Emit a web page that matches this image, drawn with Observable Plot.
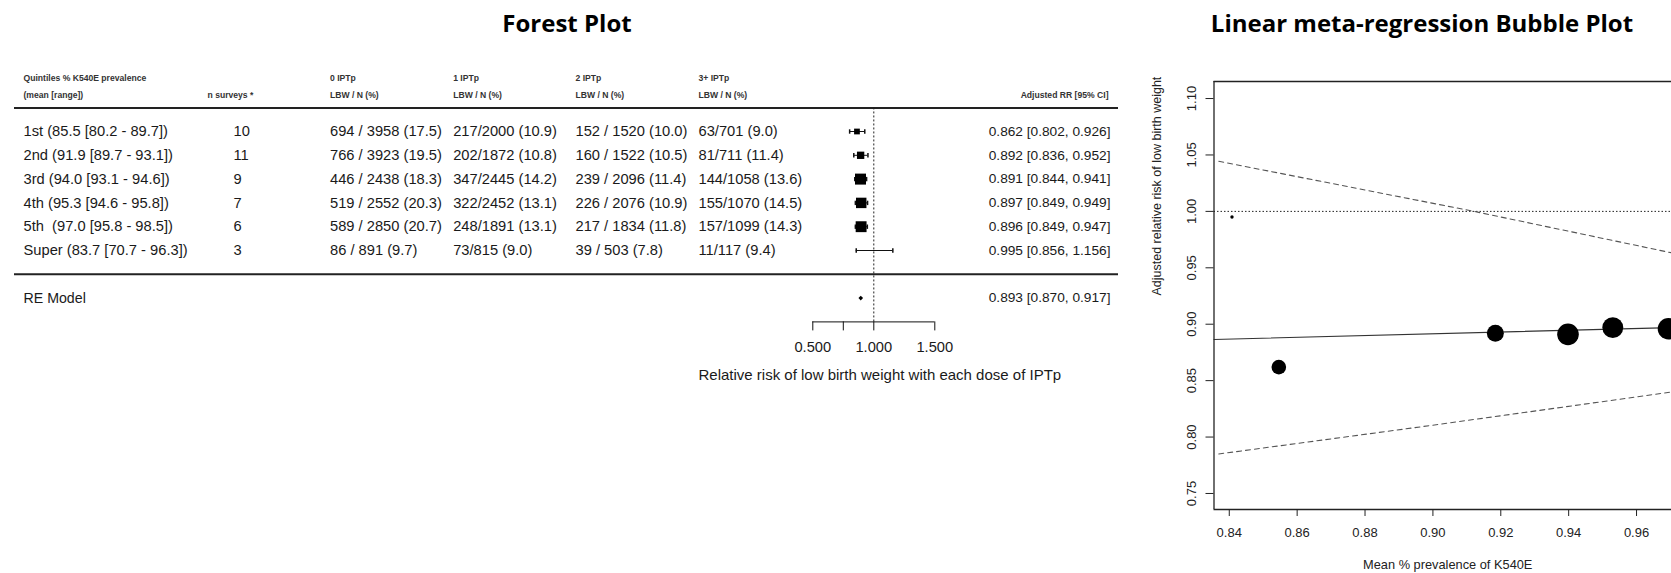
<!DOCTYPE html>
<html><head><meta charset="utf-8">
<script src="https://cdn.jsdelivr.net/npm/d3@7"></script>
<script src="https://cdn.jsdelivr.net/npm/@observablehq/plot@0.6"></script>
<style>
html,body{margin:0;padding:0;background:#fff;overflow:hidden;}
#wrap{position:relative;width:1671px;height:573px;}
.title{position:absolute;font-family:"Open Sans",sans-serif;font-weight:700;color:#000;white-space:nowrap;transform:translate(-50%,-50%);}
#forest{position:absolute;left:0;top:60px;}
#bubble{position:absolute;left:1140px;top:60px;}
svg{overflow:visible;}
</style></head><body>
<div id="wrap">
<div class="title" style="left:567px;top:22px;font-size:24px">Forest Plot</div>
<div class="title" style="left:1422px;top:22px;font-size:24px">Linear meta-regression Bubble Plot</div>
<div id="forest"></div><div id="bubble"></div>
</div>
<script>
// ---------- data ----------
const quintiles = ["1st (85.5 [80.2 - 89.7])", "2nd (91.9 [89.7 - 93.1])", "3rd (94.0 [93.1 - 94.6])",
  "4th (95.3 [94.6 - 95.8])", "5th  (97.0 [95.8 - 98.5])", "Super (83.7 [70.7 - 96.3])"];
const nSurveys = [10, 11, 9, 7, 6, 3];
const ipt0 = ["694 / 3958 (17.5)", "766 / 3923 (19.5)", "446 / 2438 (18.3)", "519 / 2552 (20.3)", "589 / 2850 (20.7)", "86 / 891 (9.7)"];
const ipt1 = ["217/2000 (10.9)", "202/1872 (10.8)", "347/2445 (14.2)", "322/2452 (13.1)", "248/1891 (13.1)", "73/815 (9.0)"];
const ipt2 = ["152 / 1520 (10.0)", "160 / 1522 (10.5)", "239 / 2096 (11.4)", "226 / 2076 (10.9)", "217 / 1834 (11.8)", "39 / 503 (7.8)"];
const ipt3 = ["63/701 (9.0)", "81/711 (11.4)", "144/1058 (13.6)", "155/1070 (14.5)", "157/1099 (14.3)", "11/117 (9.4)"];
const rr = [0.862, 0.892, 0.891, 0.897, 0.896, 0.995];
const rrLow = [0.802, 0.836, 0.844, 0.849, 0.849, 0.856];
const rrHigh = [0.926, 0.952, 0.941, 0.949, 0.947, 1.156];
const reLabel = "RE Model";
const reRR = 0.893, reLow = 0.870, reHigh = 0.917;
const headerTop = ["Quintiles % K540E prevalence", "0 IPTp", "1 IPTp", "2 IPTp", "3+ IPTp"];
const headerBottom = ["(mean [range])", "n surveys *", "LBW / N (%)", "LBW / N (%)", "LBW / N (%)", "LBW / N (%)"];
const headerRight = "Adjusted RR [95% CI]";
const forestTicks = [0.5, 0.75, 1.0, 1.5];
const forestTickLabels = ["0.500", "", "1.000", "1.500"];
const forestXLabel = "Relative risk of low birth weight with each dose of IPTp";

const bubbleX = [0.8546, 0.9184, 0.9398, 0.9530, 0.9694, 0.8408];
const fitX = [0.8355, 0.9703];
const fitY = [0.8865, 0.8970];
const upperX = [0.8369, 0.9121, 0.9703];
const upperY = [1.0444, 1.000, 0.9633];
const lowerX = [0.8369, 0.9000, 0.9703];
const lowerY = [0.7850, 0.8105, 0.8399];
const bubbleXTicks = [0.84, 0.86, 0.88, 0.90, 0.92, 0.94, 0.96];
const bubbleYTicks = [0.75, 0.80, 0.85, 0.90, 0.95, 1.00, 1.05, 1.10];
const bubbleXLabel = "Mean % prevalence of K540E";
const bubbleYLabel = "Adjusted relative risk of low birth weight";

// ---------- derived ----------
const rows = quintiles.map((q, i) => ({
  i, q, n: String(nSurveys[i]), c0: ipt0[i], c1: ipt1[i], c2: ipt2[i], c3: ipt3[i],
  rr: rr[i], lo: rrLow[i], hi: rrHigh[i],
  prec: 3.92 / (Math.log(rrHigh[i]) - Math.log(rrLow[i])),
  ci: `${rr[i].toFixed(3)} [${rrLow[i].toFixed(3)}, ${rrHigh[i].toFixed(3)}]`
}));
rows.forEach(d => d.w = d.prec * d.prec);

// row layout (in row units)
const H1 = -2.23, H2 = -1.51, RULE_TOP = -0.99, RULE_MID = 6.0, RE_ROW = 7.0, AXIS_ROW = 8.0;
const FW = 1140, FH = 330, ROW0 = 71, ROWSTEP = 23.8;
const font = "Liberation Sans, Arial, sans-serif";
const TL = {fontFamily: font, fontSize: 14.7, fill: "#1a1a1a"};
const TR = {fontFamily: font, fontSize: 13.7, fill: "#1a1a1a"};
const HB = {fontFamily: font, fontSize: 8.6, fontWeight: "bold", fill: "#333"};
const colDx = [9, 219, 315.5, 438.7, 561, 684];
const headDx = [9, 193, 315.5, 438.7, 561, 684];
const topDx = [9, 315.5, 438.7, 561, 684];

const capSymbol = {draw(ctx, size) { const h = Math.sqrt(size / Math.PI); ctx.moveTo(0, -h); ctx.lineTo(0, h); }};

const forest = Plot.plot({
  width: FW, height: FH,
  marginLeft: 14, marginRight: 22, marginTop: 0, marginBottom: FH - (ROW0 + AXIS_ROW * ROWSTEP),
  x: {domain: [0.5, 1.5], range: [812.3, 934.3]},
  y: {domain: [0, 5], range: [ROW0, ROW0 + 5 * ROWSTEP], axis: null},
  r: {type: "linear", domain: d3.extent(rows, d => d.w), range: [0.2, 6.2]},
  style: {fontFamily: font, background: "transparent"},
  marks: [
    Plot.ruleY([RULE_TOP, RULE_MID], {stroke: "#222", strokeWidth: 2}),
    Plot.ruleX([1], {y1: RULE_TOP, y2: AXIS_ROW, stroke: "#222", strokeDasharray: "2,2"}),
    Plot.ruleY([AXIS_ROW], {x1: forestTicks[0], x2: forestTicks[forestTicks.length - 1], stroke: "#111"}),
    Plot.axisX(forestTicks, {anchor: "bottom", tickSize: 9, tickPadding: 11, label: null,
      tickFormat: d => forestTickLabels[forestTicks.indexOf(d)], fontSize: 14.7, fill: "#1a1a1a", stroke: "#111"}),
    Plot.text([forestXLabel], {x: () => (forestTicks[0] + forestTicks[forestTicks.length - 1]) / 2, y: () => AXIS_ROW + 2.25, dx: 6, ...TL, fontSize: 15}),
    // headers
    ...headerTop.map((h, k) => Plot.text([h], {frameAnchor: "left", y: () => H1, dx: topDx[k], textAnchor: "start", ...HB})),
    ...headerBottom.map((h, k) => Plot.text([h], {frameAnchor: "left", y: () => H2, dx: headDx[k], textAnchor: "start", ...HB})),
    Plot.text([headerRight], {frameAnchor: "right", y: () => H2, dx: -10, textAnchor: "end", ...HB}),
    // table columns
    ...["q", "n", "c0", "c1", "c2", "c3"].map((c, k) => Plot.text(rows, {frameAnchor: "left", y: "i", text: c, dx: colDx[k], textAnchor: "start", ...TL})),
    Plot.text(rows, {frameAnchor: "right", y: "i", text: "ci", dx: -8, textAnchor: "end", ...TR}),
    Plot.text([reLabel], {frameAnchor: "left", y: () => RE_ROW, dx: colDx[0], textAnchor: "start", ...TR, fontSize: 14.2}),
    Plot.text([`${reRR.toFixed(3)} [${reLow.toFixed(3)}, ${reHigh.toFixed(3)}]`], {frameAnchor: "right", y: () => RE_ROW, dx: -8, textAnchor: "end", ...TR}),
    // CIs
    Plot.ruleY(rows, {y: "i", x1: "lo", x2: "hi", stroke: "#111", strokeWidth: 1}),
    Plot.dot(rows, {x: "lo", y: "i", symbol: capSymbol, r: 2.2, stroke: "#111", fill: "none"}),
    Plot.dot(rows, {x: "hi", y: "i", symbol: capSymbol, r: 2.2, stroke: "#111", fill: "none"}),
    Plot.dot(rows, {x: "rr", y: "i", r: "w", symbol: "square", fill: "#000", stroke: null}),
    Plot.dot([{rr: reRR}], {x: "rr", y: () => RE_ROW, r: 2.1, symbol: "diamond2", fill: "#000"})
  ]
});
document.getElementById("forest").appendChild(forest);

// ---------- bubble plot ----------
const bubbles = rows.map((d, i) => ({x: bubbleX[i], y: d.rr, prec: d.prec}));
const fit = fitX.map((x, i) => ({x, y: fitY[i]}));
const upper = upperX.map((x, i) => ({x, y: upperY[i]}));
const lower = lowerX.map((x, i) => ({x, y: lowerY[i]}));
const xDom = [0.8355, 0.9703], yDom = [0.7358, 1.1151];
const B = {fontFamily: font, fontSize: 13, fill: "#222"};

const bubble = Plot.plot({
  width: 531, height: 513,
  marginLeft: 73.5, marginTop: 21, marginRight: 0, marginBottom: 64,
  x: {domain: xDom},
  y: {domain: yDom},
  r: {type: "linear", domain: d3.extent(bubbles, d => d.prec), range: [1.7, 10.8]},
  style: {fontFamily: font, background: "transparent"},
  marks: [
    Plot.ruleY([1], {stroke: "#222", strokeDasharray: "1.5,2"}),
    Plot.line(upper, {x: "x", y: "y", stroke: "#555", strokeDasharray: "5,4", strokeWidth: 1.1}),
    Plot.line(lower, {x: "x", y: "y", stroke: "#555", strokeDasharray: "5,4", strokeWidth: 1.1}),
    Plot.line(fit, {x: "x", y: "y", stroke: "#333", strokeWidth: 1.1}),
    Plot.dot(bubbles, {x: "x", y: "y", r: "prec", fill: "#000", stroke: null}),
    Plot.ruleX([xDom[0]], {stroke: "#222", strokeWidth: 1.3}),
    Plot.ruleY(yDom, {stroke: "#222", strokeWidth: 1.3}),
    Plot.axisX(bubbleXTicks, {anchor: "bottom", tickSize: 7, tickPadding: 11, tickFormat: d3.format(".2f"), label: null, ...B, stroke: "#222"}),
    Plot.axisY(bubbleYTicks, {anchor: "left", tickSize: 8, tickPadding: 10, tickRotate: -90, tickFormat: d3.format(".2f"), label: null, ...B, stroke: "#222"}),
    Plot.text([bubbleYLabel], {frameAnchor: "left", dx: -57, rotate: -90, ...B, fontSize: 12.5}),
    Plot.text([bubbleXLabel], {frameAnchor: "bottom", dy: 59, dx: 5, ...B, fontSize: 12.8})
  ]
});
document.getElementById("bubble").appendChild(bubble);
</script>
</body></html>
